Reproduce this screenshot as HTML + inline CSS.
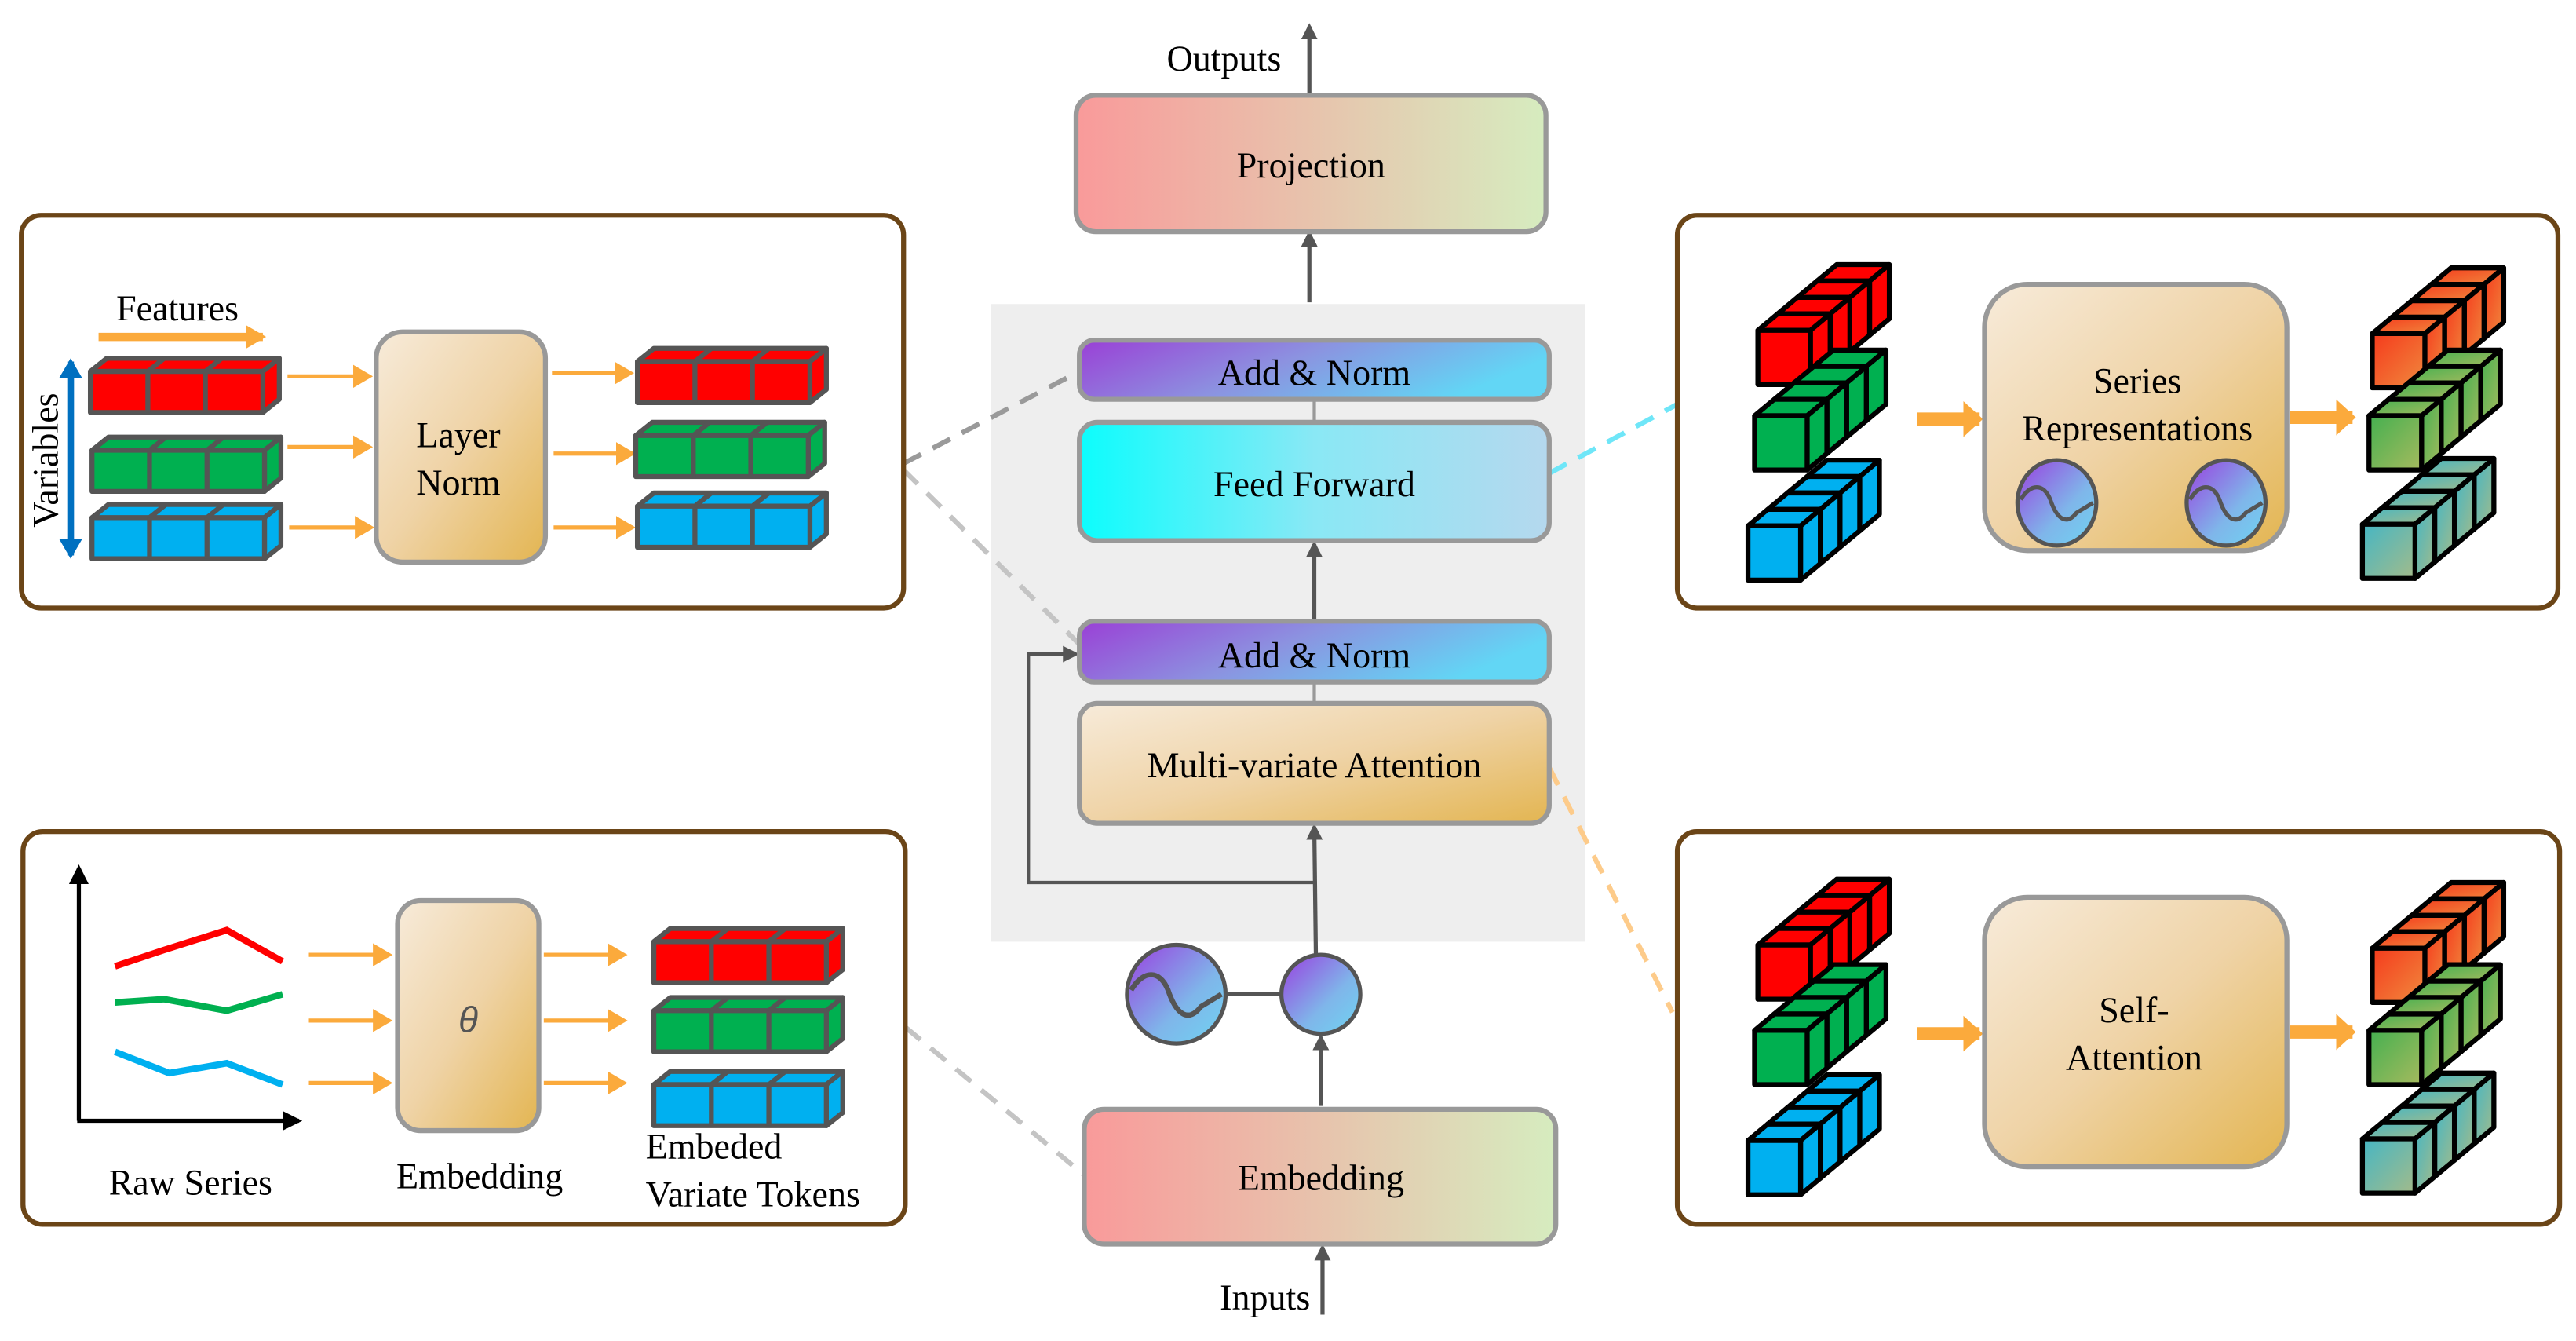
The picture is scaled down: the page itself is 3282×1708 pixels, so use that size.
<!DOCTYPE html>
<html><head><meta charset="utf-8"><style>
html,body{margin:0;padding:0;background:#fff;}
svg{display:block;font-family:"Liberation Serif","DejaVu Serif",serif;}
svg text{font-family:"Liberation Serif","DejaVu Serif",serif;fill:#000;}
</style></head><body>
<svg width="3282" height="1708" viewBox="0 0 1568 816" xmlns="http://www.w3.org/2000/svg" font-family="Liberation Serif, DejaVu Serif, serif">
<defs>
<linearGradient id="gPE" x1="0" y1="0" x2="1" y2="0"><stop offset="0" stop-color="#f99a9a"/><stop offset="1" stop-color="#d6ecbf"/></linearGradient>
<linearGradient id="gAN" x1="0" y1="0" x2="1" y2="0.3"><stop offset="0" stop-color="#9a3fd6"/><stop offset="0.5" stop-color="#8c92e0"/><stop offset="1" stop-color="#62d6f5"/></linearGradient>
<linearGradient id="gFF" x1="0" y1="0" x2="1" y2="0"><stop offset="0" stop-color="#0cfdfd"/><stop offset="0.5" stop-color="#8ae8f5"/><stop offset="1" stop-color="#b5d8ee"/></linearGradient>
<linearGradient id="gMA" x1="0" y1="0" x2="1" y2="1"><stop offset="0" stop-color="#f7ebda"/><stop offset="0.5" stop-color="#efd3a6"/><stop offset="1" stop-color="#e3b551"/></linearGradient>
<linearGradient id="gC" x1="0" y1="0" x2="1" y2="1"><stop offset="0" stop-color="#9a3ee0"/><stop offset="0.6" stop-color="#7fb6ea"/><stop offset="1" stop-color="#6fd4f2"/></linearGradient>
<linearGradient id="gR" x1="0" y1="0" x2="1" y2="1"><stop offset="0" stop-color="#f53a1c"/><stop offset="1" stop-color="#f08a3e"/></linearGradient>
<linearGradient id="gG" x1="0" y1="0" x2="1" y2="1"><stop offset="0" stop-color="#44b050"/><stop offset="1" stop-color="#a6ba5e"/></linearGradient>
<linearGradient id="gT" x1="0" y1="0" x2="1" y2="1"><stop offset="0" stop-color="#45b6c4"/><stop offset="1" stop-color="#a3bb8a"/></linearGradient>
<marker id="ah" markerWidth="10" markerHeight="10" refX="8" refY="5" orient="auto" markerUnits="userSpaceOnUse"><path d="M0,0 L10,5 L0,10 Z" fill="#555"/></marker>
<marker id="ahk" markerWidth="12" markerHeight="12" refX="10" refY="6" orient="auto" markerUnits="userSpaceOnUse"><path d="M0,0 L12,6 L0,12 Z" fill="#000"/></marker>
<marker id="aho" markerWidth="12" markerHeight="14" refX="10" refY="7" orient="auto" markerUnits="userSpaceOnUse"><path d="M0,0 L12,7 L0,14 Z" fill="#fbaa3c"/></marker>
<marker id="ahO" markerWidth="12" markerHeight="22" refX="10" refY="11" orient="auto" markerUnits="userSpaceOnUse"><path d="M0,0 L12,11 L0,22 Z" fill="#fbaa3c"/></marker>
<marker id="ahb" markerWidth="12" markerHeight="14" refX="10" refY="7" orient="auto" markerUnits="userSpaceOnUse"><path d="M0,0 L12,7 L0,14 Z" fill="#0070c0"/></marker>
<g id="bar" stroke="#555" stroke-width="3" stroke-linejoin="round">
<polygon points="0,8 10,0 115,0 105,8"/>
<polygon points="105,8 115,0 115,25 105,33"/>
<rect x="0" y="8" width="105" height="25"/>
<line x1="35" y1="8" x2="35" y2="33"/><line x1="70" y1="8" x2="70" y2="33"/>
<line x1="35" y1="8" x2="45" y2="0"/><line x1="70" y1="8" x2="80" y2="0"/>
</g>
<g id="cube" stroke="#000" stroke-width="3" stroke-linejoin="round">
<polygon points="0,0 12,-10 44,-10 32,0"/>
<polygon points="32,0 44,-10 44,23 32,33"/>
<rect x="0" y="0" width="32" height="33"/>
</g>
<g id="wave"><path d="M-22,-2 C-16,-12 -8,-12 -4,-2 C0,10 6,14 12,6 L22,0" fill="none" stroke="#555" stroke-width="2.5"/></g>
</defs>

<rect x="603" y="185" width="362" height="388" fill="#eeeeee"/>

<line x1="550" y1="282" x2="657" y2="226" stroke="#9a9a9a" stroke-width="3" stroke-dasharray="12,8"/>
<line x1="550" y1="286" x2="657" y2="392" stroke="#c4c4c4" stroke-width="3" stroke-dasharray="12,8"/>
<line x1="551" y1="625" x2="660" y2="715" stroke="#c4c4c4" stroke-width="3" stroke-dasharray="12,8"/>
<line x1="943" y1="288" x2="1021" y2="246" stroke="#6fe6f8" stroke-width="3" stroke-dasharray="12,8"/>
<line x1="943" y1="467" x2="1018" y2="616" stroke="#fdcb8a" stroke-width="3" stroke-dasharray="12,8"/>

<line x1="797" y1="58" x2="797" y2="16" stroke="#555" stroke-width="2.5" marker-end="url(#ah)"/>
<line x1="797" y1="184" x2="797" y2="142" stroke="#555" stroke-width="2.5" marker-end="url(#ah)"/>
<line x1="800" y1="243" x2="800" y2="257" stroke="#999" stroke-width="2"/>
<line x1="800" y1="378" x2="800" y2="331" stroke="#555" stroke-width="2.5" marker-end="url(#ah)"/>
<line x1="800" y1="415" x2="800" y2="428" stroke="#999" stroke-width="2"/>
<line x1="801" y1="584" x2="800" y2="503" stroke="#555" stroke-width="2.5" marker-end="url(#ah)"/>
<polyline points="800,537 626,537 626,398 655,398" fill="none" stroke="#555" stroke-width="2" marker-end="url(#ah)"/>
<line x1="804" y1="673" x2="804" y2="631" stroke="#555" stroke-width="2.5" marker-end="url(#ah)"/>
<line x1="805" y1="800" x2="805" y2="759" stroke="#555" stroke-width="2.5" marker-end="url(#ah)"/>
<line x1="745" y1="605" x2="780" y2="605" stroke="#555" stroke-width="2.5"/>

<rect x="655" y="58" width="286" height="83" rx="12" fill="url(#gPE)" stroke="#999" stroke-width="3"/>
<text x="798" y="108" font-size="22" text-anchor="middle">Projection</text>
<text x="745" y="43" font-size="22" text-anchor="middle">Outputs</text>
<rect x="657" y="207" width="286" height="36" rx="9" fill="url(#gAN)" stroke="#999" stroke-width="3"/>
<text x="800" y="234" font-size="22" text-anchor="middle">Add &amp; Norm</text>
<rect x="657" y="257" width="286" height="72" rx="11" fill="url(#gFF)" stroke="#999" stroke-width="3"/>
<text x="800" y="302" font-size="22" text-anchor="middle">Feed Forward</text>
<rect x="657" y="378" width="286" height="37" rx="9" fill="url(#gAN)" stroke="#999" stroke-width="3"/>
<text x="800" y="406" font-size="22" text-anchor="middle">Add &amp; Norm</text>
<rect x="657" y="428" width="286" height="73" rx="11" fill="url(#gMA)" stroke="#999" stroke-width="3"/>
<text x="800" y="473" font-size="22" text-anchor="middle">Multi-variate Attention</text>
<circle cx="716" cy="605" r="30" fill="url(#gC)" stroke="#555" stroke-width="2.5"/>
<g transform="translate(716,605) scale(1.25)"><use href="#wave"/></g>
<circle cx="804" cy="605" r="24" fill="url(#gC)" stroke="#555" stroke-width="2.5"/>
<rect x="660" y="675" width="287" height="82" rx="12" fill="url(#gPE)" stroke="#999" stroke-width="3"/>
<text x="804" y="724" font-size="22" text-anchor="middle">Embedding</text>
<text x="770" y="797" font-size="22" text-anchor="middle">Inputs</text>

<rect x="13" y="131" width="537" height="239" rx="12" fill="#fff" stroke="#6b4517" stroke-width="3"/>
<text x="108" y="195" font-size="22" text-anchor="middle">Features</text>
<line x1="60" y1="205" x2="160" y2="205" stroke="#fbaa3c" stroke-width="5" marker-end="url(#aho)"/>
<line x1="43" y1="230" x2="43" y2="338" stroke="#0070c0" stroke-width="4" marker-end="url(#ahb)"/>
<line x1="43" y1="330" x2="43" y2="220" stroke="#0070c0" stroke-width="4" marker-end="url(#ahb)"/>
<text transform="translate(35,280) rotate(-90)" font-size="22" text-anchor="middle">Variables</text>
<use href="#bar" x="55" y="218" fill="#ff0000"/>
<use href="#bar" x="56" y="266" fill="#00b050"/>
<use href="#bar" x="56" y="307" fill="#00b0f0"/>
<g stroke="#fbaa3c" stroke-width="2.5">
<line x1="175" y1="229" x2="225" y2="229" marker-end="url(#aho)"/>
<line x1="175" y1="272" x2="225" y2="272" marker-end="url(#aho)"/>
<line x1="176" y1="321" x2="226" y2="321" marker-end="url(#aho)"/>
<line x1="336" y1="227" x2="384" y2="227" marker-end="url(#aho)"/>
<line x1="337" y1="276" x2="385" y2="276" marker-end="url(#aho)"/>
<line x1="337" y1="321" x2="385" y2="321" marker-end="url(#aho)"/>
</g>
<rect x="229" y="202" width="103" height="140" rx="16" fill="url(#gMA)" stroke="#999" stroke-width="3"/>
<text x="279" y="272" font-size="22" text-anchor="middle">Layer</text>
<text x="279" y="301" font-size="22" text-anchor="middle">Norm</text>
<use href="#bar" x="388" y="212" fill="#ff0000"/>
<use href="#bar" x="387" y="257" fill="#00b050"/>
<use href="#bar" x="388" y="300" fill="#00b0f0"/>

<rect x="14" y="506" width="537" height="239" rx="12" fill="#fff" stroke="#6b4517" stroke-width="3"/>
<line x1="48" y1="682" x2="48" y2="528" stroke="#000" stroke-width="2.5" marker-end="url(#ahk)"/>
<line x1="47" y1="682" x2="182" y2="682" stroke="#000" stroke-width="2.5" marker-end="url(#ahk)"/>
<polyline points="70,588 100,578 138,566 172,585" fill="none" stroke="#ff0000" stroke-width="4"/>
<polyline points="70,610 100,608 138,615 172,605" fill="none" stroke="#00b050" stroke-width="4"/>
<polyline points="70,640 103,653 138,647 172,660" fill="none" stroke="#00b0f0" stroke-width="4"/>
<g stroke="#fbaa3c" stroke-width="2.5">
<line x1="188" y1="581" x2="237" y2="581" marker-end="url(#aho)"/>
<line x1="188" y1="621" x2="237" y2="621" marker-end="url(#aho)"/>
<line x1="188" y1="659" x2="237" y2="659" marker-end="url(#aho)"/>
<line x1="331" y1="581" x2="380" y2="581" marker-end="url(#aho)"/>
<line x1="331" y1="621" x2="380" y2="621" marker-end="url(#aho)"/>
<line x1="331" y1="659" x2="380" y2="659" marker-end="url(#aho)"/>
</g>
<rect x="242" y="548" width="86" height="140" rx="14" fill="url(#gMA)" stroke="#999" stroke-width="3"/>
<text x="285" y="628" font-size="22" font-style="italic" text-anchor="middle" style="font-family:'Liberation Sans',sans-serif;fill:#555">θ</text>
<use href="#bar" x="398" y="565" fill="#ff0000"/>
<use href="#bar" x="398" y="607" fill="#00b050"/>
<use href="#bar" x="398" y="652" fill="#00b0f0"/>
<text x="116" y="727" font-size="22" text-anchor="middle">Raw Series</text>
<text x="292" y="723" font-size="22" text-anchor="middle">Embedding</text>
<text x="393" y="705" font-size="22">Embeded</text>
<text x="393" y="734" font-size="22">Variate Tokens</text>

<rect x="1021" y="131" width="536" height="239" rx="12" fill="#fff" stroke="#6b4517" stroke-width="3"/>
<g fill="#ff0000"><use href="#cube" x="1106" y="171"/><use href="#cube" x="1094" y="181"/><use href="#cube" x="1082" y="191"/><use href="#cube" x="1070" y="201"/></g>
<g fill="#00b050"><use href="#cube" x="1104" y="223"/><use href="#cube" x="1092" y="233"/><use href="#cube" x="1080" y="243"/><use href="#cube" x="1068" y="253"/></g>
<g fill="#00b0f0"><use href="#cube" x="1100" y="290"/><use href="#cube" x="1088" y="300"/><use href="#cube" x="1076" y="310"/><use href="#cube" x="1064" y="320"/></g>
<line x1="1167" y1="255" x2="1205" y2="255" stroke="#fbaa3c" stroke-width="8" marker-end="url(#ahO)"/>
<rect x="1208" y="173" width="184" height="162" rx="26" fill="url(#gMA)" stroke="#999" stroke-width="3"/>
<text x="1301" y="239" font-size="22" text-anchor="middle">Series</text>
<text x="1301" y="268" font-size="22" text-anchor="middle">Representations</text>
<ellipse cx="1252" cy="306" rx="24" ry="26" fill="url(#gC)" stroke="#555" stroke-width="2.5"/>
<g transform="translate(1252,306)"><use href="#wave"/></g>
<ellipse cx="1355" cy="306" rx="24" ry="26" fill="url(#gC)" stroke="#555" stroke-width="2.5"/>
<g transform="translate(1355,306)"><use href="#wave"/></g>
<line x1="1394" y1="254" x2="1432" y2="254" stroke="#fbaa3c" stroke-width="8" marker-end="url(#ahO)"/>
<g fill="url(#gR)"><use href="#cube" x="1480" y="173"/><use href="#cube" x="1468" y="183"/><use href="#cube" x="1456" y="193"/><use href="#cube" x="1444" y="203"/></g>
<g fill="url(#gG)"><use href="#cube" x="1478" y="223"/><use href="#cube" x="1466" y="233"/><use href="#cube" x="1454" y="243"/><use href="#cube" x="1442" y="253"/></g>
<g fill="url(#gT)"><use href="#cube" x="1474" y="289"/><use href="#cube" x="1462" y="299"/><use href="#cube" x="1450" y="309"/><use href="#cube" x="1438" y="319"/></g>

<rect x="1021" y="506" width="537" height="239" rx="12" fill="#fff" stroke="#6b4517" stroke-width="3"/>
<g fill="#ff0000"><use href="#cube" x="1106" y="545"/><use href="#cube" x="1094" y="555"/><use href="#cube" x="1082" y="565"/><use href="#cube" x="1070" y="575"/></g>
<g fill="#00b050"><use href="#cube" x="1104" y="597"/><use href="#cube" x="1092" y="607"/><use href="#cube" x="1080" y="617"/><use href="#cube" x="1068" y="627"/></g>
<g fill="#00b0f0"><use href="#cube" x="1100" y="664"/><use href="#cube" x="1088" y="674"/><use href="#cube" x="1076" y="684"/><use href="#cube" x="1064" y="694"/></g>
<line x1="1167" y1="629" x2="1205" y2="629" stroke="#fbaa3c" stroke-width="8" marker-end="url(#ahO)"/>
<rect x="1208" y="546" width="184" height="164" rx="26" fill="url(#gMA)" stroke="#999" stroke-width="3"/>
<text x="1299" y="622" font-size="22" text-anchor="middle">Self-</text>
<text x="1299" y="651" font-size="22" text-anchor="middle">Attention</text>
<line x1="1394" y1="628" x2="1432" y2="628" stroke="#fbaa3c" stroke-width="8" marker-end="url(#ahO)"/>
<g fill="url(#gR)"><use href="#cube" x="1480" y="547"/><use href="#cube" x="1468" y="557"/><use href="#cube" x="1456" y="567"/><use href="#cube" x="1444" y="577"/></g>
<g fill="url(#gG)"><use href="#cube" x="1478" y="597"/><use href="#cube" x="1466" y="607"/><use href="#cube" x="1454" y="617"/><use href="#cube" x="1442" y="627"/></g>
<g fill="url(#gT)"><use href="#cube" x="1474" y="663"/><use href="#cube" x="1462" y="673"/><use href="#cube" x="1450" y="683"/><use href="#cube" x="1438" y="693"/></g>
</svg>
</body></html>
